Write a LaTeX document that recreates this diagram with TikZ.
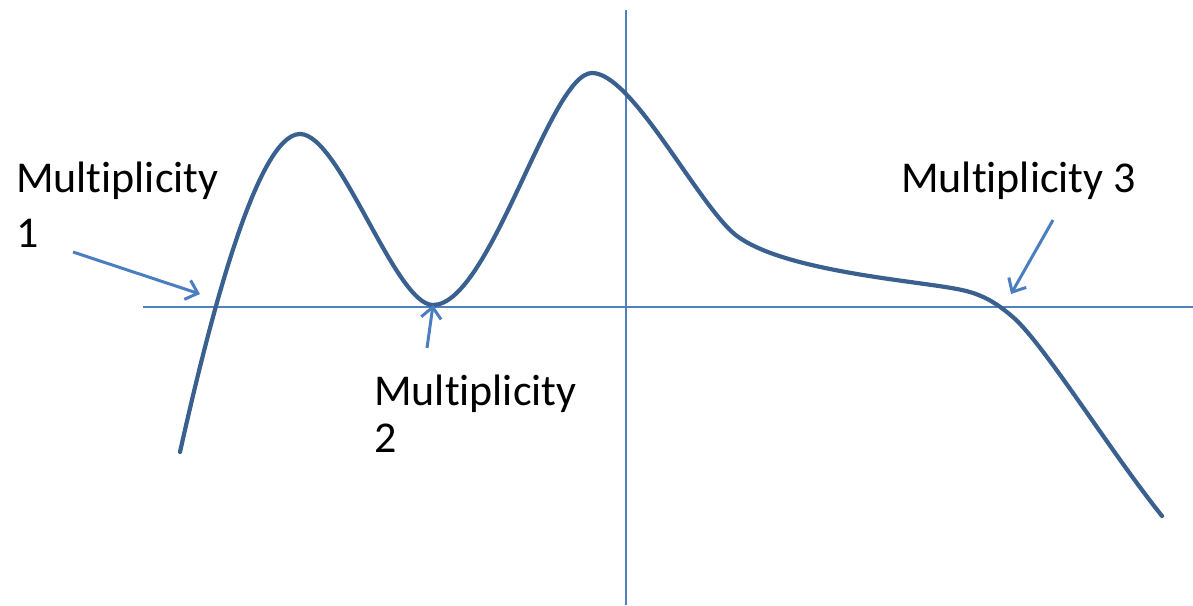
\documentclass[tikz,border=0pt]{standalone}
\usepackage{fontspec}
\setmainfont{Carlito}[RawFeature=-liga]
\usetikzlibrary{arrows.meta}
\definecolor{axisblue}{HTML}{4F81BD}
\definecolor{curveblue}{HTML}{3A6090}
\definecolor{arrowblue}{HTML}{4A7EC0}
\tikzset{
  axisline/.style={draw=axisblue, line width=1.6pt},
  curveline/.style={draw=curveblue, line width=4.2pt, line cap=round, line join=round},
  pointer/.style={draw=arrowblue, line width=3pt, -{Straight Barb[length=11pt,width=20pt,line width=3pt]}},
  lbl/.style={anchor=base west, inner sep=0pt, font=\fontsize{44}{54}\selectfont, text=black}
}
\begin{document}
\begin{tikzpicture}[x=1pt,y=-1pt]
\useasboundingbox (0,0) rectangle (1193,605);
% axes
\coordinate (xl) at (143,307);
\coordinate (xr) at (1193,307);
\coordinate (yt) at (626,10);
\coordinate (yb) at (626,605);
\draw[axisline] (xl) -- (xr);
\draw[axisline] (yt) -- (yb);
% curve
\draw[curveline] (180,452)
  .. controls (205,340) and (255,134) .. (300,134)
  .. controls (340,134) and (395,305) .. (433,305)
  .. controls (490,305) and (550,73) .. (592,73)
  .. controls (630,73) and (690,190) .. (730,230)
  .. controls (770,270) and (910,280) .. (957,289)
  .. controls (985,294) and (1000,306) .. (1014,318)
  .. controls (1045,346) and (1110,451) .. (1162,516);
% labels
\node[lbl] (m1a) at (16,192) {Multiplicity};
\node[lbl] (m1b) at (16,247) {1};
\node[lbl] (m2a) at (374,405) {Multiplicity};
\node[lbl] (m2b) at (374,452) {2};
\node[lbl] (m3) at (901,192) {Multiplicity 3};
% arrows
\coordinate (a1s) at (73,252);
\coordinate (a1e) at (200,294);
\coordinate (a2s) at (427,348);
\coordinate (a2e) at (433,305);
\coordinate (a3s) at (1053,220);
\coordinate (a3e) at (1011,294);
\draw[pointer] (a1s) -- (a1e);
\draw[pointer] (a2s) -- (a2e);
\draw[pointer] (a3s) -- (a3e);
\end{tikzpicture}
\end{document}
